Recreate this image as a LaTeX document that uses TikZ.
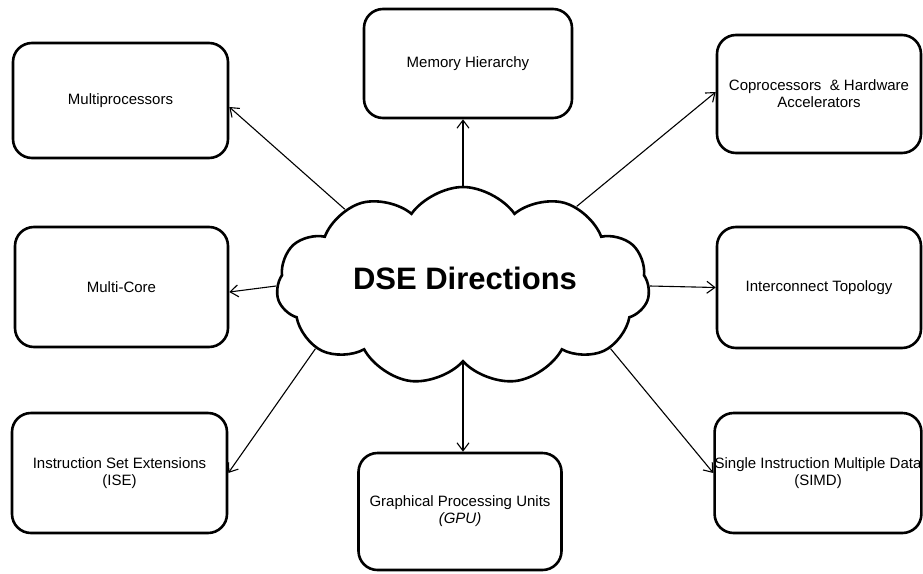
\documentclass[tikz,border=0pt]{standalone}
\usepackage{fontspec}
\setmainfont{Liberation Sans}
\usetikzlibrary{shapes.symbols,arrows.meta}
\begin{document}
\begin{tikzpicture}[x=1pt,y=-1pt,
  box/.style={draw, line width=2.6pt, rounded corners=19pt, align=center,
    font=\fontsize{15}{17}\selectfont, inner sep=0pt},
  arr/.style={line width=1.1pt,
    -{Straight Barb[length=8pt,width=12pt,line width=1.1pt]}}]
\useasboundingbox (0,0) rectangle (923,573);

% central cloud and its title
\node[cloud, draw, line width=2.6pt, cloud puffs=11, cloud puff arc=110,
      minimum width=373pt, minimum height=198pt, inner sep=0pt] (cloud) at (463,286) {};
\node[font=\fontsize{31}{36}\selectfont\bfseries] (title) at (465,278) {DSE Directions};

% surrounding topic boxes
\node[box, minimum width=215pt, minimum height=115pt] (mp) at (120.5,100.5) {Multiprocessors};
\node[box, minimum width=208pt, minimum height=109pt] (mem) at (468,63.5) {Memory Hierarchy};
\node[box, minimum width=204pt, minimum height=118pt] (cop) at (819,94) {Coprocessors\ \ \& Hardware\\Accelerators};
\node[box, minimum width=213pt, minimum height=120pt] (mc) at (121.5,287) {Multi-Core};
\node[box, minimum width=204pt, minimum height=121pt] (ic) at (819,287.5) {Interconnect Topology};
\node[box, minimum width=215pt, minimum height=120pt] (ise) at (119.5,473) {Instruction Set Extensions\\(ISE)};
\node[box, minimum width=203pt, minimum height=117pt] (gpu) at (460,511.5) {Graphical Processing Units\\\textit{(GPU)}};
\node[box, minimum width=206pt, minimum height=120pt] (simd) at (818,473) {Single Instruction Multiple Data\\(SIMD)};

% connectors from the cloud to each box
\draw[arr] (cloud.147) -- ([yshift=-6.5pt]mp.east);
\draw[arr] (cloud.north) -- (cloud.north |- mem.south);
\draw[arr] (cloud.35) -- ([yshift=2pt]cop.west);
\draw[arr] (cloud.west) -- ([yshift=-5pt]mc.east);
\draw[arr] (cloud.east) -- (ic.west);
\draw[arr] (cloud.203) -- (ise.east);
\draw[arr] (cloud.south) -- (cloud.south |- gpu.north);
\draw[arr] (cloud.337) -- (simd.west);
\end{tikzpicture}
\end{document}
